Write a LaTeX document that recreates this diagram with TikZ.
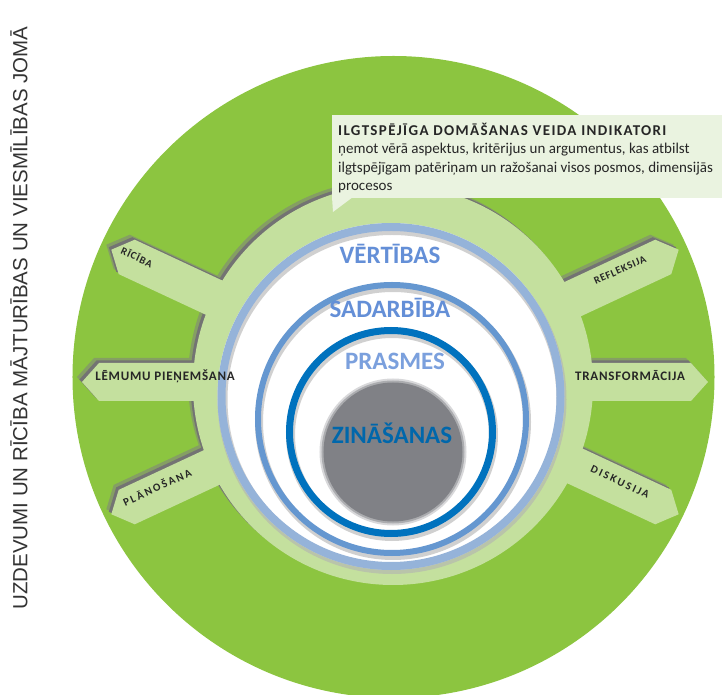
\documentclass[tikz,border=0pt]{standalone}
\usepackage{fontspec}
\setmainfont{Carlito}
\newfontfamily\vertfont{Liberation Sans}
\usetikzlibrary{calc}
\definecolor{outergreen}{RGB}{140,197,64}
\definecolor{ringgreen}{RGB}{196,224,158}
\definecolor{calloutgreen}{RGB}{234,243,224}
\definecolor{ringblueA}{RGB}{149,179,217}
\definecolor{ringblueB}{RGB}{101,151,208}
\definecolor{ringblueC}{RGB}{0,114,190}
\definecolor{labelblue}{RGB}{100,143,215}
\definecolor{coregrey}{RGB}{128,129,134}
\tikzstyle{spokelabel}=[font=\fontsize{10.5}{11}\selectfont\bfseries\addfontfeature{LetterSpace=8}, text=black!85, inner sep=0pt]
\tikzstyle{widelabel}=[font=\fontsize{11}{11}\selectfont\bfseries\addfontfeature{LetterSpace=19}, text=black!85, inner sep=0pt]
\tikzstyle{flatlabel}=[font=\fontsize{13}{13}\selectfont\bfseries\addfontfeature{LetterSpace=6}, text=black!85, inner sep=0pt]
\tikzstyle{ringlabel}=[font=\fontsize{25}{25}\selectfont\bfseries, inner sep=0pt, anchor=base]
\tikzstyle{ringshadow}=[black!30, opacity=0.6]
\newcommand{\drawspoke}[1]{
\pgfmathsetmacro{\tipr}{313}
\pgfmathsetmacro{\neckr}{\tipr-17}
\begin{scope}[rotate=#1]
  \fill (100,-19) -- (\neckr,-19) -- (\tipr,0) -- (\neckr,19) -- (100,19) -- cycle;
\end{scope}
}
\newcommand{\drawring}[5]{
% centre x, centre y, radius, width, colour
\draw[ringshadow, line width=#4+2] (#1+1,#2-3) circle (#3);
\draw[#5, line width=#4] (#1,#2) circle (#3);
}

\begin{document}
\begin{tikzpicture}[x=1pt,y=1pt]
	\useasboundingbox (-395,-313) rectangle (327,382);
	% outer disc
	\fill[outergreen] (-1.5,5) circle (321);
	% soft shadow of ring and spokes
	\begin{scope}[shift={(-5,5)}, fill=outergreen!45!gray]
	\fill (-2,-3) circle (200);
	\foreach \a in {0,25,155,180,205,335} {\drawspoke{\a}}
	\end{scope}
	\begin{scope}[shift={(-2.5,2.5)}, fill=gray!90!black]
	\fill (-2,-3) circle (200);
	\foreach \a in {0,25,155,180,205,335} {\drawspoke{\a}}
	\end{scope}
	\begin{scope}[fill=ringgreen]
	\fill (-2,-3) circle (200);
	\foreach \a in {0,25,155,180,205,335} {\drawspoke{\a}}
	\end{scope}
	% nested circles
	\fill[white] (-4,-14.5) circle (173.5);
	\drawring{-4}{-14.5}{169.5}{8}{ringblueA}
	\drawring{-3}{-37}{134}{6}{ringblueB}
	\drawring{-4}{-50}{101.5}{7}{ringblueC}
	\fill[coregrey, opacity=0.3] (-2,-70) circle (73.5);
	\fill[coregrey, opacity=0.5] (-2,-70) circle (71.5);
	\fill[coregrey] (-2,-70) circle (69.5);
	\node[ringlabel, text=labelblue] (vertibas) at (-5,118) {VĒRTĪBAS};
	\node[ringlabel, text=labelblue] (sadarbiba) at (-5,64) {SADARBĪBA};
	\node[ringlabel, text=labelblue!85!white] (prasmes) at (0,12) {PRASMES};
	\node[ringlabel, text=ringblueC!90!black] (zinasanas) at (-3,-62) {ZINĀŠANAS};
	% spoke labels
	\node[spokelabel, rotate=-25] (riciba) at (-258,125) {RĪCĪBA};
	\node[spokelabel, rotate=24] (refleksija) at (225,112) {REFLEKSIJA};
	\node[flatlabel] (lemumu) at (-230,6) {LĒMUMU PIEŅEMŠANA};
	\node[flatlabel] (transformacija) at (235,6) {TRANSFORMĀCIJA};
	\node[widelabel, rotate=25] (planosana) at (-238,-105) {PLĀNOŠANA};
	\node[widelabel, rotate=-25] (diskusija) at (225,-100) {DISKUSIJA};
	% callout
	\fill[calloutgreen] (-63,267) rectangle (340,184);
	\fill[calloutgreen] (-63,185) -- (-62,170) -- (-42,185) -- cycle;
	\node[anchor=base west, align=left, inner sep=0pt, text=black!85, font=\fontsize{15}{18.5}\selectfont] (indikatori) at (-57,191)
	{{\fontsize{15}{18.5}\selectfont\bfseries\addfontfeature{LetterSpace=9}ILGTSPĒJĪGA DOMĀŠANAS VEIDA INDIKATORI}\\
	 ņemot vērā aspektus, kritērijus un argumentus, kas atbilst\\
	 ilgtspējīgam patēriņam un ražošanai visos posmos, dimensijās\\
	 procesos};
	% side title
	\node[rotate=90, inner sep=0pt, text=black!80, font=\vertfont\fontsize{20.5}{20.5}\selectfont] (joma) at (-376,64)
	{UZDEVUMI UN RĪCĪBA MĀJTURĪBAS UN VIESMĪLĪBAS JOMĀ};
\end{tikzpicture}
\end{document}
